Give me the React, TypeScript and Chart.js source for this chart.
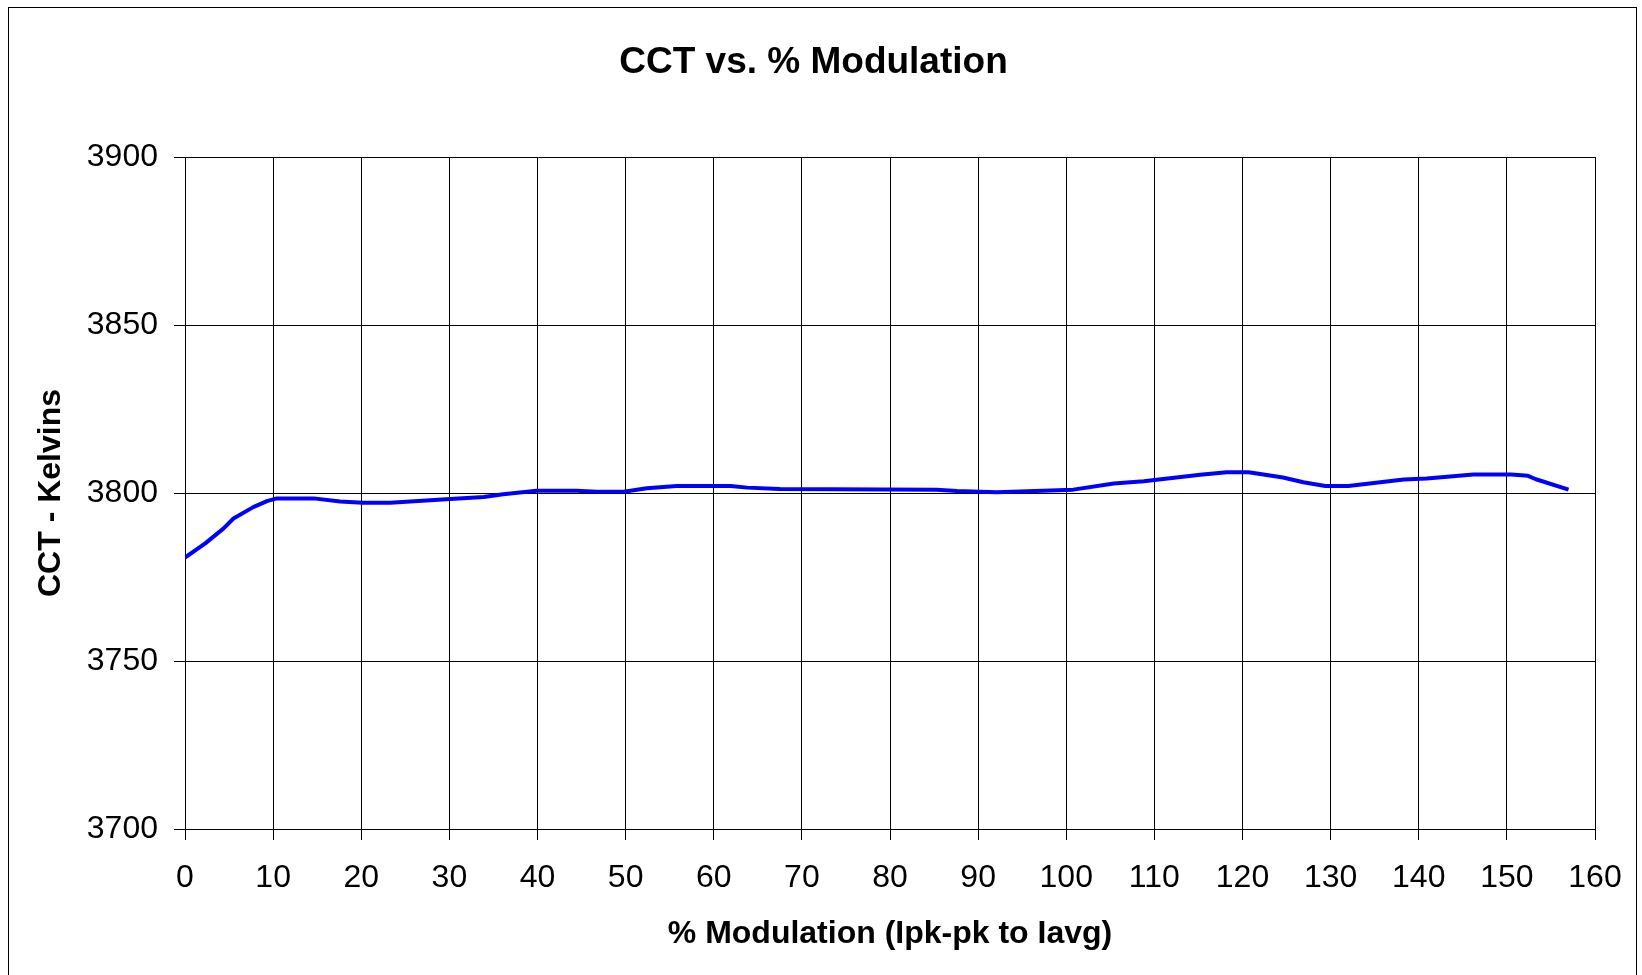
import React, { useEffect, useRef } from "react";
import { Chart, registerables } from "chart.js";

Chart.register(...registerables);

const chartTitle = "CCT vs. % Modulation";
const xAxisTitle = "% Modulation (Ipk-pk to Iavg)";
const yAxisTitle = "CCT - Kelvins";

const modulationPct = [
  0, 2.3, 4.35, 5.5, 7.75, 9.3, 10.4, 14.6, 17.6, 20.2, 23.3, 30.1, 33.9, 36.1,
  39.9, 44.4, 46.7, 49.8, 52.4, 55.8, 61.9, 63.8, 67.5, 85.3, 87.6, 92.1, 100.8,
  105.4, 106.9, 108.8, 115.2, 118.2, 120.7, 124.6, 126.9, 129.4, 132, 138.3,
  140.9, 146.2, 150.5, 152.4, 153.3, 157,
];
const cctKelvins = [
  3780.8, 3785, 3789.4, 3792.4, 3795.8, 3797.6, 3798.4, 3798.4, 3797.5, 3797.1,
  3797.1, 3798.2, 3798.8, 3799.6, 3800.7, 3800.7, 3800.4, 3800.4, 3801.4,
  3802.1, 3802.1, 3801.6, 3801.2, 3801.0, 3800.6, 3800.2, 3801.0, 3802.8,
  3803.1, 3803.5, 3805.4, 3806.2, 3806.2, 3804.6, 3803.2, 3802.1, 3802.1,
  3804.0, 3804.3, 3805.5, 3805.5, 3805.1, 3804.1, 3801.0,
];

const xMin = 0;
const xMax = 160;
const xStep = 10;
const yMin = 3700;
const yMax = 3900;
const yStep = 50;

const FONT = "'Liberation Sans', Arial, sans-serif";

const borderPlugin = {
  id: "outerBorder",
  afterDraw(chart: any) {
    const ctx = chart.ctx;
    ctx.save();
    ctx.strokeStyle = "#000";
    ctx.lineWidth = 1;
    ctx.strokeRect(8.5, 7.5, 1628, 1000);
    ctx.restore();
  },
};

export default function App() {
  const ref = useRef<HTMLCanvasElement | null>(null);

  useEffect(() => {
    if (!ref.current) return;
    const data = modulationPct.map((x, i) => ({ x, y: cctKelvins[i] }));
    const chart = new Chart(ref.current, {
      type: "scatter",
      data: {
        datasets: [
          {
            data,
            showLine: true,
            borderColor: "#0000ff",
            borderWidth: 4,
            pointRadius: 0,
            borderJoinStyle: "round",
            fill: false,
            tension: 0,
          },
        ],
      },
      plugins: [borderPlugin],
      options: {
        responsive: false,
        animation: false,
        events: [],
        layout: { padding: { left: 32, right: 47, top: 0, bottom: 0 } },
        plugins: {
          legend: { display: false },
          tooltip: { enabled: false },
          title: {
            display: true,
            text: chartTitle,
            color: "#000",
            font: { family: FONT, size: 37, weight: "bold" },
            padding: { top: 40.4, bottom: 72.2 },
          },
        },
        scales: {
          x: {
            type: "linear",
            min: xMin,
            max: xMax,
            afterFit: (s: any) => {
              s.height = 146;
            },
            ticks: {
              stepSize: xStep,
              color: "#000",
              font: { family: FONT, size: 32 },
              padding: 19,
              maxRotation: 0,
              callback: (v: any) => String(v),
            },
            grid: { color: "#000", lineWidth: 1, tickLength: 11, tickColor: "#000" },
            border: { color: "#000", width: 1 },
            title: {
              display: true,
              text: xAxisTitle,
              color: "#000",
              font: { family: FONT, size: 32, weight: "bold" },
              padding: { top: 0, bottom: 22 },
            },
          },
          y: {
            type: "linear",
            min: yMin,
            max: yMax,
            afterFit: (s: any) => {
              s.width = 153;
            },
            ticks: {
              stepSize: yStep,
              color: "#000",
              font: { family: FONT, size: 32 },
              padding: 16,
              callback: (v: any) => String(v),
            },
            grid: { color: "#000", lineWidth: 1, tickLength: 11, tickColor: "#000" },
            border: { color: "#000", width: 1 },
            title: {
              display: true,
              text: yAxisTitle,
              color: "#000",
              font: { family: FONT, size: 32, weight: "bold" },
              padding: { top: 0, bottom: 0 },
            },
          },
        },
      },
    } as any);
    return () => chart.destroy();
  }, []);

  return (
    <canvas
      ref={ref}
      width={1642}
      height={975}
      style={{ position: "fixed", left: 0, top: 0, display: "block", background: "#fff" }}
    />
  );
}
